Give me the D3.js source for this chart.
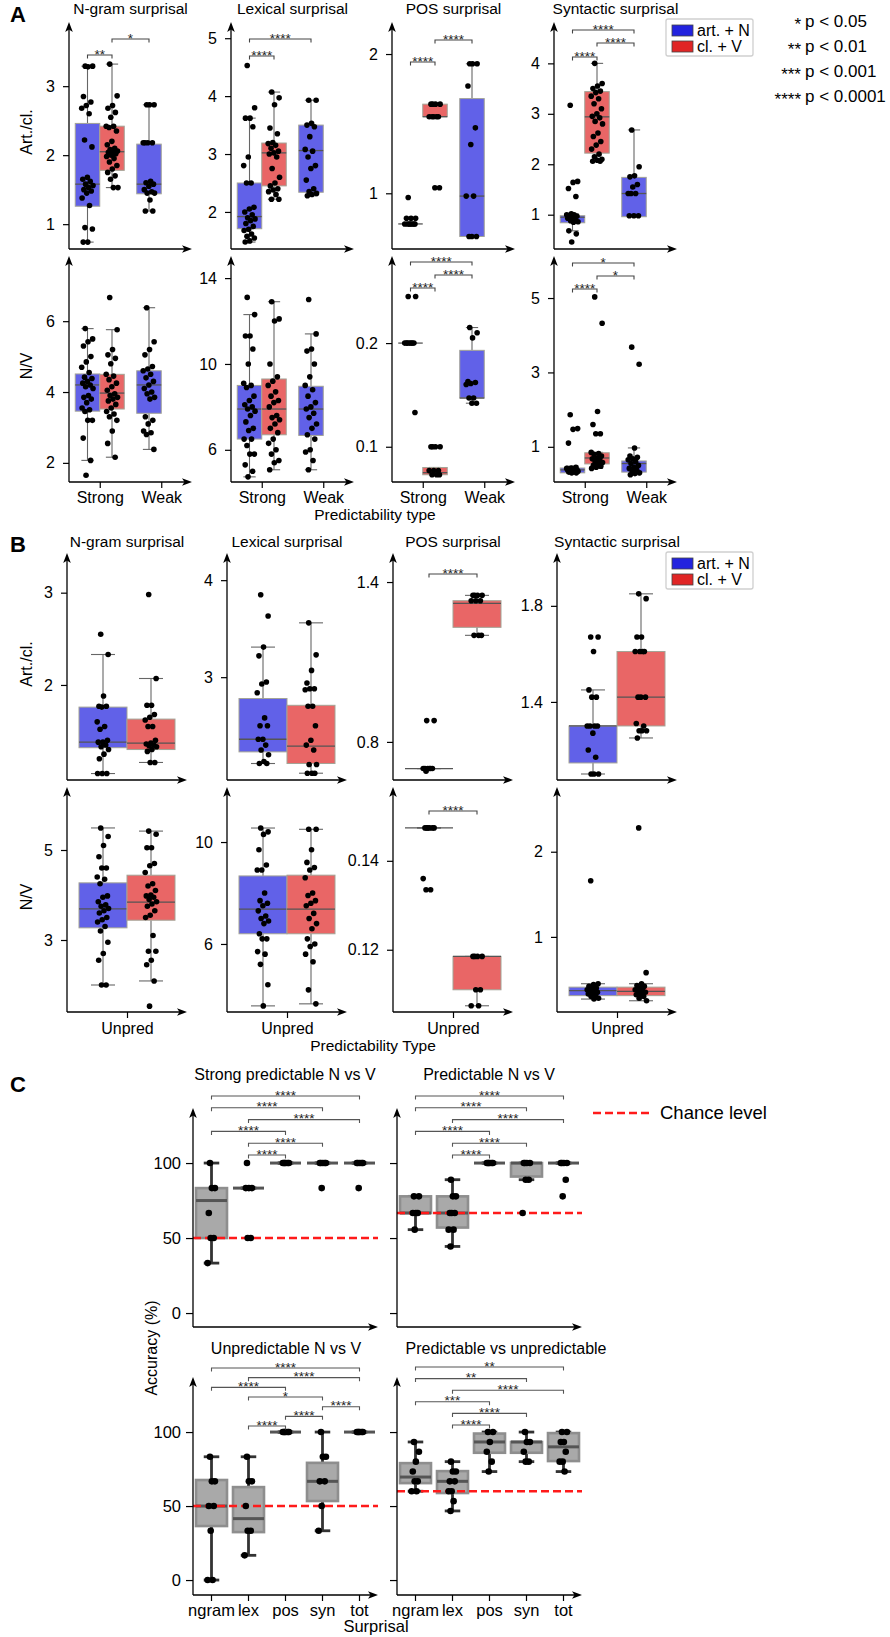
<!DOCTYPE html>
<html><head><meta charset="utf-8">
<script src="https://cdn.jsdelivr.net/npm/d3@7/dist/d3.min.js"></script>
<style>body{margin:0;background:#fff}svg{display:block}</style>
</head><body>
<svg id="chart" width="890" height="1637"></svg>
<script>
// ================= DATA =================
const hueNames = ["art. + N", "cl. + V"];
const predTypes = ["Strong", "Weak"];
const unpredType = ["Unpred"];
const surprisalTypes = ["ngram", "lex", "pos", "syn", "tot"];
const surprisalTitles = ["N-gram surprisal", "Lexical surprisal", "POS surprisal", "Syntactic surprisal"];
const accTitles = ["Strong predictable N vs V", "Predictable N vs V", "Unpredictable N vs V", "Predictable vs unpredictable"];
const sigStars = ["*", "**", "***", "****"];
const sigThresh = ["p < 0.05", "p < 0.01", "p < 0.001", "p < 0.0001"];
const groupsA = [["Strong", "art. + N"], ["Strong", "cl. + V"], ["Weak", "art. + N"]];
const groupsB = [["Unpred", "art. + N"], ["Unpred", "cl. + V"]];

// box stats: [Q1, median, Q3, lower whisker, upper whisker]
// ---- Panel A, Art./cl. ----
const aNgramArtBox = [[1.26,1.58,2.46,0.74,3.29],[1.78,2.05,2.42,1.53,3.32],[1.44,1.58,2.16,1.19,2.73]];
const aNgramArtPts = [
 [3.29,3.29,3.28,2.85,2.77,2.72,2.68,2.6,2.22,2.12,1.68,1.65,1.62,1.58,1.56,1.53,1.5,1.48,1.45,1.38,1.27,0.95,0.93,0.74,0.74],
 [3.32,2.86,2.72,2.68,2.62,2.55,2.42,2.42,2.4,2.35,2.2,2.15,2.1,2.08,2.06,2.05,2.04,2.02,2.0,1.98,1.95,1.9,1.85,1.8,1.75,1.7,1.65,1.53,1.53],
 [2.73,2.73,2.73,2.18,2.18,2.18,2.18,1.62,1.6,1.58,1.55,1.5,1.47,1.45,1.45,1.35,1.19,1.19]];
const aNgramArtSig = [[0,1,"**"],[1,2,"*"]];
const aNgramArtTicks = [1,2,3];

const aLexArtBox = [[1.71,1.92,2.5,1.48,3.62],[2.45,3.02,3.19,2.22,4.07],[2.34,3.06,3.5,2.28,3.93]];
const aLexArtPts = [
 [4.53,3.8,3.62,3.62,3.47,2.95,2.8,2.5,2.5,2.08,2.05,2.0,1.95,1.9,1.88,1.85,1.8,1.75,1.7,1.68,1.62,1.58,1.55,1.5,1.48],
 [4.07,3.97,3.85,3.45,3.35,3.2,3.18,3.15,3.1,3.05,3.02,3.0,2.95,2.75,2.6,2.5,2.45,2.4,2.38,2.35,2.3,2.22,2.22],
 [3.93,3.93,3.53,3.5,3.47,3.3,3.08,3.05,2.95,2.8,2.75,2.55,2.4,2.35,2.32,2.3,2.28]];
const aLexArtSig = [[0,1,"****"],[0,2,"****"]];
const aLexArtTicks = [2,3,4,5];

const aPosArtBox = [[0.78,0.78,0.78,0.78,0.78],[1.55,1.55,1.64,1.55,1.64],[0.69,0.98,1.68,0.69,1.93]];
const aPosArtPts = [
 [0.97,0.82,0.82,0.82,0.78,0.78,0.78,0.78,0.78,0.78,0.78],
 [1.64,1.64,1.64,1.64,1.55,1.55,1.55,1.55,1.55,1.04,1.04],
 [1.93,1.93,1.93,1.77,1.47,1.35,0.98,0.98,0.69,0.69,0.69]];
const aPosArtSig = [[0,1,"****"],[1,2,"****"]];
const aPosArtTicks = [1,2];

const aSynArtBox = [[0.84,0.95,0.98,0.68,1.02],[2.22,2.94,3.44,2.06,4.0],[0.96,1.42,1.74,0.96,2.68]];
const aSynArtPts = [
 [3.17,1.66,1.64,1.52,1.36,1.02,1.0,1.0,0.98,0.97,0.95,0.93,0.9,0.88,0.86,0.85,0.68,0.62,0.46],
 [4.0,3.6,3.55,3.5,3.45,3.42,3.35,3.3,3.2,3.1,3.0,2.95,2.92,2.85,2.8,2.62,2.55,2.45,2.38,2.3,2.2,2.15,2.1,2.08,2.06,2.06],
 [2.68,1.95,1.77,1.75,1.6,1.55,1.42,1.42,1.42,0.98,0.98,0.98]];
const aSynArtSig = [[0,1,"****"],[1,2,"****"],[0,2,"****"]];
const aSynArtTicks = [1,2,3,4];

// ---- Panel A, N/V ----
const aNgramNVBox = [[3.46,4.2,4.51,2.07,5.79],[3.52,3.97,4.5,2.16,5.76],[3.4,4.2,4.6,2.38,6.38]];
const aNgramNVPts = [
 [5.79,5.5,5.42,5.3,5.0,4.85,4.7,4.55,4.42,4.38,4.3,4.25,4.2,4.15,4.1,3.9,3.85,3.8,3.7,3.55,3.5,3.45,3.2,3.2,2.7,2.07,1.65],
 [6.67,5.76,5.2,5.05,4.95,4.8,4.5,4.45,4.35,4.25,4.15,4.05,3.95,3.9,3.85,3.8,3.75,3.65,3.55,3.45,3.38,3.3,3.2,2.9,2.55,2.16],
 [6.38,5.42,5.2,5.05,4.72,4.65,4.6,4.5,4.4,4.3,4.2,4.1,4.0,3.95,3.85,3.8,3.3,3.2,3.1,2.9,2.85,2.8,2.38]];
const aNgramNVSig = [];
const aNgramNVTicks = [2,4,6];

const aLexNVBox = [[6.5,7.9,9.0,4.74,12.3],[6.7,7.9,9.3,5.07,12.9],[6.67,7.9,8.96,5.07,11.4]];
const aLexNVPts = [
 [13.1,12.3,11.3,11.3,10.7,10.0,9.1,9.0,8.9,8.5,8.3,8.1,8.0,7.9,7.8,7.6,7.3,7.0,6.9,6.5,6.5,6.2,5.8,5.8,5.3,5.0,4.74],
 [12.9,12.1,12.0,10.0,9.4,9.2,9.0,8.7,8.5,8.3,8.2,8.0,7.6,7.5,7.4,7.2,7.0,6.8,6.5,6.3,6.0,5.8,5.5,5.4,5.07],
 [13.0,11.4,10.7,10.6,10.0,9.4,9.0,8.8,8.5,8.2,8.0,7.9,7.7,7.5,7.2,7.0,6.7,6.5,6.0,5.9,5.5,5.07]];
const aLexNVSig = [];
const aLexNVTicks = [6,10,14];

const aPosNVBox = [[0.2,0.2,0.2,0.2,0.2],[0.073,0.075,0.08,0.073,0.08],[0.147,0.147,0.193,0.142,0.215]];
const aPosNVPts = [
 [0.245,0.245,0.2,0.2,0.2,0.2,0.2,0.2,0.2,0.133],
 [0.1,0.1,0.1,0.1,0.077,0.077,0.077,0.073,0.073,0.073],
 [0.215,0.21,0.205,0.163,0.162,0.161,0.16,0.147,0.147,0.142,0.142]];
const aPosNVSig = [[0,1,"****"],[1,2,"****"],[0,2,"****"]];
const aPosNVTicks = [0.1,0.2];

const aSynNVBox = [[0.3,0.38,0.43,0.28,0.48],[0.54,0.7,0.84,0.42,0.85],[0.32,0.55,0.62,0.25,0.97]];
const aSynNVPts = [
 [1.86,1.49,1.47,1.1,0.45,0.43,0.42,0.4,0.4,0.38,0.38,0.37,0.36,0.35,0.34,0.33,0.32,0.3,0.3],
 [5.03,4.32,1.95,1.6,1.35,1.35,0.85,0.82,0.8,0.75,0.7,0.68,0.65,0.6,0.58,0.55,0.5,0.48,0.45,0.42],
 [3.68,3.22,0.97,0.75,0.72,0.68,0.65,0.6,0.55,0.5,0.45,0.42,0.38,0.35,0.3,0.28,0.25]];
const aSynNVSig = [[0,1,"****"],[1,2,"*"],[0,2,"*"]];
const aSynNVTicks = [1,3,5];

// ---- Panel B, Art./cl. ----
const bNgramArtBox = [[1.32,1.38,1.76,1.04,2.33],[1.3,1.37,1.63,1.16,2.07]];
const bNgramArtPts = [
 [2.55,2.33,1.88,1.77,1.77,1.76,1.6,1.55,1.52,1.4,1.38,1.38,1.35,1.33,1.3,1.25,1.2,1.04,1.04,1.04],
 [2.98,2.07,1.78,1.78,1.68,1.65,1.62,1.55,1.55,1.4,1.37,1.36,1.35,1.34,1.33,1.3,1.28,1.16,1.16]];
const bNgramArtSig = [];
const bNgramArtTicks = [2,3];

const bLexArtBox = [[2.23,2.36,2.78,2.11,3.31],[2.11,2.29,2.71,2.01,3.56]];
const bLexArtPts = [
 [3.85,3.63,3.31,3.22,2.95,2.93,2.84,2.58,2.5,2.5,2.36,2.36,2.3,2.25,2.2,2.13,2.11,2.11],
 [3.56,3.23,3.07,2.94,2.88,2.88,2.87,2.7,2.7,2.5,2.35,2.3,2.25,2.1,2.1,2.01,2.01,2.01]];
const bLexArtSig = [];
const bLexArtTicks = [3,4];

const bPosArtBox = [[0.7,0.7,0.7,0.7,0.7],[1.23,1.32,1.33,1.2,1.35]];
const bPosArtPts = [
 [0.88,0.88,0.7,0.7,0.7,0.7,0.7,0.7,0.69],
 [1.35,1.35,1.35,1.35,1.33,1.33,1.33,1.2,1.2,1.2]];
const bPosArtSig = [[0,1,"****"]];
const bPosArtTicks = [0.8,1.4];

const bSynArtBox = [[1.146,1.3,1.3,1.1,1.45],[1.3,1.42,1.61,1.25,1.85]];
const bSynArtPts = [
 [1.67,1.67,1.61,1.45,1.42,1.42,1.3,1.3,1.3,1.3,1.27,1.2,1.17,1.1,1.1,1.1],
 [1.85,1.83,1.67,1.67,1.61,1.61,1.61,1.61,1.42,1.42,1.42,1.31,1.3,1.28,1.28,1.28,1.25]];
const bSynArtSig = [];
const bSynArtTicks = [1.4,1.8];

// ---- Panel B, N/V ----
const bNgramNVBox = [[3.27,3.69,4.27,2.0,5.49],[3.44,3.84,4.44,2.09,5.42]];
const bNgramNVPts = [
 [5.49,5.3,5.1,4.85,4.6,4.6,4.4,4.35,4.25,3.98,3.95,3.85,3.78,3.75,3.7,3.65,3.6,3.5,3.45,3.4,3.3,3.2,2.95,2.7,2.55,2.0,2.0],
 [5.42,5.35,5.05,5.05,4.7,4.65,4.5,4.25,4.2,4.1,4.0,3.98,3.95,3.9,3.85,3.8,3.75,3.65,3.55,3.5,3.1,2.75,2.75,2.55,2.45,2.09,1.53]];
const bNgramNVSig = [];
const bNgramNVTicks = [3,5];

const bLexNVBox = [[6.4,7.37,8.67,3.57,10.55],[6.4,7.37,8.7,3.65,10.5]];
const bLexNVPts = [
 [10.55,10.4,10.3,9.7,9.1,8.9,8.9,8.0,7.7,7.6,7.5,7.3,7.1,7.0,6.9,6.8,6.4,6.2,6.2,5.7,5.6,5.2,4.4,3.57],
 [10.5,10.5,9.7,9.2,9.0,8.9,8.6,8.0,7.9,7.7,7.6,7.5,7.2,7.0,6.8,6.6,6.2,6.0,5.9,5.6,5.3,4.2,3.65]];
const bLexNVSig = [];
const bLexNVTicks = [6,10];

const bPosNVBox = [[0.1474,0.1474,0.1474,0.1474,0.1474],[0.111,0.1185,0.1185,0.1074,0.1185]];
const bPosNVPts = [
 [0.1474,0.1474,0.1474,0.1474,0.1474,0.1474,0.136,0.1335,0.1335],
 [0.1185,0.1185,0.1185,0.1185,0.111,0.111,0.1074,0.1074]];
const bPosNVSig = [[0,1,"****"]];
const bPosNVTicks = [0.12,0.14];

const bSynNVBox = [[0.31,0.37,0.41,0.27,0.45],[0.31,0.36,0.41,0.25,0.45]];
const bSynNVPts = [
 [1.66,0.45,0.44,0.42,0.4,0.39,0.38,0.37,0.36,0.35,0.34,0.33,0.32,0.3,0.28,0.27],
 [2.28,0.58,0.45,0.43,0.42,0.4,0.38,0.37,0.36,0.35,0.33,0.32,0.3,0.28,0.25]];
const bSynNVSig = [];
const bSynNVTicks = [1,2];

// ---- Panel C, accuracy (%) per surprisal type ----
const accTicks = [0,50,100];
const cStrongBox = [[50,75,83.3,33.3,100],[83.3,83.3,83.3,83.3,83.3],[100,100,100,100,100],[100,100,100,100,100],[100,100,100,100,100]];
const cStrongPts = [[100,83.3,83.3,66.7,50,50,33.3],[100,83.3,83.3,83.3,50,50],[100,100,100,100,100,100],[100,100,100,100,100,83.3],[100,100,100,100,100,83.3]];
const cStrongSig = [[0,4,"****"],[0,3,"****"],[1,4,"****"],[0,2,"****"],[1,3,"****"],[1,2,"****"]];

const cPredBox = [[66.7,66.7,77.8,55.6,77.8],[57,66.7,77.8,44.4,88.9],[100,100,100,100,100],[91,100,100,88.9,100],[100,100,100,100,100]];
const cPredPts = [[77.8,77.8,66.7,66.7,66.7,55.6],[88.9,77.8,77.8,66.7,66.7,66.7,55.6,55.6,44.4],[100,100,100,100,100,100],[100,100,100,100,88.9,88.9,66.7],[100,100,100,100,88.9,77.8]];
const cPredSig = [[0,4,"****"],[0,3,"****"],[1,4,"****"],[0,2,"****"],[1,3,"****"],[1,2,"****"]];

const cUnpredBox = [[36.5,50,67.6,0,83.3],[32.4,41.5,62.8,16.7,83.3],[100,100,100,100,100],[53.4,66.7,79.2,33.3,100],[100,100,100,100,100]];
const cUnpredPts = [[83.3,66.7,66.7,50,50,33.3,0,0],[83.3,66.7,66.7,50,33.3,33.3,16.7],[100,100,100,100,100,100],[100,83.3,83.3,66.7,66.7,50,33.3],[100,100,100,100,100,100]];
const cUnpredSig = [[0,4,"****"],[1,4,"****"],[0,2,"****"],[1,3,"*"],[3,4,"****"],[2,3,"****"],[1,2,"****"]];

const cPvUBox = [[65.5,69.6,79,60,93.3],[58.8,66.7,73.6,46.7,80],[86,93.3,99,73.3,100],[86,93.3,93.3,80,100],[80.4,90,99.3,73.3,100]];
const cPvUPts = [[93.3,86.7,80,73.3,66.7,66.7,60,60],[80,73.3,73.3,66.7,66.7,60,60,53.3,46.7],[100,100,93.3,86.7,80,73.3],[100,93.3,93.3,86.7,80,80],[100,100,93.3,93.3,86.7,80,80,73.3]];
const cPvUSig = [[0,4,"**"],[0,3,"**"],[1,4,"****"],[0,2,"***"],[1,3,"****"],[1,2,"****"]];

const chanceLevels = [50, 66.7, 50, 60];

// ================= DRAWING =================
const FONT = "'Liberation Sans', Arial, Helvetica, sans-serif";
const svg = d3.select("#chart");
const hueFill = ["#6161e8", "#e96666"];
const hueSwatch = ["#2323de", "#e02525"];

function txt(x, y, s, size, o = {}) {
  const e = svg.append("text").attr("x", x).attr("y", y).text(s)
    .attr("font-size", size).attr("font-family", FONT).attr("fill", "#000");
  if (o.anchor) e.attr("text-anchor", o.anchor);
  if (o.weight) e.attr("font-weight", o.weight);
  if (o.rot) e.attr("transform", `rotate(-90,${x},${y})`);
  return e;
}
function jitter(n, half) {
  return d3.range(n).map(i => ((((i + 0.5) * 0.61803398875) % 1) * 2 - 1) * half);
}

const stAB = {boxStroke: "#a3a396", boxW: 1, med: "#555", medW: 1.3, wh: "#666", whW: 1.1, cap: 0.5, r: 2.8, jit: 6,
  tickLen: 6, tickPad: 8, tickFont: 16, brColor: "#444", brFont: 13.5};
const stC = {boxStroke: "#8e8e8e", boxW: 2.6, med: "#555", medW: 3, wh: "#333", whW: 2.8, cap: 0.5, r: 3.3, jit: 4,
  tickLen: 7, tickPad: 5, tickFont: 16.5, brColor: "#555", brFont: 13.5};

function subplot(o) {
  const g = svg.append("g");
  const st = o.st;
  const y = d3.scaleLinear().domain(o.lim).range([o.yBot, o.yTop]);
  const x1 = o.x0 + o.w;
  o.boxes.forEach((b, i) => {
    const p = o.place(i);
    const hw = p.bw * st.cap / 2;
    g.append("line").attr("x1", p.cx).attr("x2", p.cx).attr("y1", y(b[3])).attr("y2", y(b[0]))
      .attr("stroke", st.wh).attr("stroke-width", st.whW);
    g.append("line").attr("x1", p.cx).attr("x2", p.cx).attr("y1", y(b[2])).attr("y2", y(b[4]))
      .attr("stroke", st.wh).attr("stroke-width", st.whW);
    [b[3], b[4]].forEach(v => g.append("line").attr("x1", p.cx - hw).attr("x2", p.cx + hw)
      .attr("y1", y(v)).attr("y2", y(v)).attr("stroke", st.wh).attr("stroke-width", st.whW));
    g.append("rect").attr("x", p.cx - p.bw / 2).attr("y", y(b[2])).attr("width", p.bw)
      .attr("height", Math.max(0, y(b[0]) - y(b[2]))).attr("fill", p.fill)
      .attr("stroke", st.boxStroke).attr("stroke-width", st.boxW);
    g.append("line").attr("x1", p.cx - p.bw / 2).attr("x2", p.cx + p.bw / 2).attr("y1", y(b[1])).attr("y2", y(b[1]))
      .attr("stroke", st.med).attr("stroke-width", st.medW);
  });
  if (o.chance != null) {
    g.append("line").attr("x1", o.x0).attr("x2", x1).attr("y1", y(o.chance)).attr("y2", y(o.chance))
      .attr("stroke", "#ff1a1a").attr("stroke-width", 2.6).attr("stroke-dasharray", "8,4");
  }
  o.pts.forEach((arr, i) => {
    const p = o.place(i);
    const jo = jitter(arr.length, st.jit);
    g.selectAll(null).data(arr).enter().append("circle")
      .attr("cx", (d, k) => p.cx + jo[k]).attr("cy", d => y(d)).attr("r", st.r).attr("fill", "#000");
  });
  const ya = d3.axisLeft(y).tickValues(o.ticks).tickSize(st.tickLen).tickPadding(st.tickPad)
    .tickFormat(o.noYLabels ? () => "" : d3.format("~g"));
  const gy = g.append("g").attr("transform", `translate(${o.x0},0)`).call(ya);
  gy.select(".domain").remove();
  gy.selectAll("line").attr("stroke", "#000").attr("stroke-width", 1.2);
  gy.selectAll("text").attr("font-size", st.tickFont).attr("font-family", FONT).attr("fill", "#000");
  if (o.xScale) {
    const xa = d3.axisBottom(o.xScale).tickSize(6).tickPadding(o.xPad);
    const gx = g.append("g").attr("transform", `translate(0,${o.yBot})`).call(xa);
    gx.select(".domain").remove();
    gx.selectAll("line").attr("stroke", "#000").attr("stroke-width", 1.2);
    gx.selectAll("text").attr("font-size", o.xFont).attr("font-family", FONT).attr("fill", "#000");
  }
  g.append("line").attr("x1", o.x0).attr("x2", o.x0).attr("y1", o.yBot).attr("y2", o.yTop + 6)
    .attr("stroke", "#000").attr("stroke-width", 1.3);
  g.append("line").attr("x1", o.x0).attr("x2", x1 - 6).attr("y1", o.yBot).attr("y2", o.yBot)
    .attr("stroke", "#000").attr("stroke-width", 1.3);
  g.append("path").attr("d", `M${o.x0},${o.yTop} L${o.x0 - 3.8},${o.yTop + 10} L${o.x0},${o.yTop + 7.5} L${o.x0 + 3.8},${o.yTop + 10}Z`).attr("fill", "#000");
  g.append("path").attr("d", `M${x1},${o.yBot} L${x1 - 10},${o.yBot - 3.8} L${x1 - 7.5},${o.yBot} L${x1 - 10},${o.yBot + 3.8}Z`).attr("fill", "#000");
  o.sig.forEach((s, k) => {
    const a = o.place(s[0]).cx, b = o.place(s[1]).cx, yy = o.brY[k];
    g.append("path").attr("d", `M${a},${yy + 3.5}V${yy}H${b}V${yy + 3.5}`).attr("fill", "none")
      .attr("stroke", st.brColor).attr("stroke-width", 1.1);
    g.append("text").attr("x", (a + b) / 2).attr("y", yy + 3.5).attr("text-anchor", "middle").text(s[2])
      .attr("font-size", st.brFont).attr("font-family", FONT).attr("fill", "#222");
  });
  if (o.title) txt(o.titleX != null ? o.titleX : o.x0 + o.w / 2, o.titleY, o.title, o.titleFont, {anchor: "middle"});
}

function hueLayout(x0, w, cats, groups, half) {
  const xc = d3.scalePoint().domain(cats).range([x0, x0 + w]).padding(0.5);
  const xh = d3.scaleBand().domain(hueNames).range([-half, half]);
  return {
    xc,
    place: i => ({cx: xc(groups[i][0]) + xh(groups[i][1]) + xh.bandwidth() / 2, bw: xh.bandwidth(),
      fill: hueFill[hueNames.indexOf(groups[i][1])]})
  };
}

// ---------- Panel A ----------
const AX0 = [69, 231, 392, 554], AW = 123;
const aArt = [
  {box: aNgramArtBox, pts: aNgramArtPts, sig: aNgramArtSig, ticks: aNgramArtTicks, lim: [0.64, 3.93], brY: [55, 39]},
  {box: aLexArtBox, pts: aLexArtPts, sig: aLexArtSig, ticks: aLexArtTicks, lim: [1.36, 5.28], brY: [56, 39]},
  {box: aPosArtBox, pts: aPosArtPts, sig: aPosArtSig, ticks: aPosArtTicks, lim: [0.6, 2.23], brY: [62, 40]},
  {box: aSynArtBox, pts: aSynArtPts, sig: aSynArtSig, ticks: aSynArtTicks, lim: [0.32, 4.82], brY: [57, 43, 30]}];
const aNV = [
  {box: aNgramNVBox, pts: aNgramNVPts, sig: aNgramNVSig, ticks: aNgramNVTicks, lim: [1.46, 7.84], brY: []},
  {box: aLexNVBox, pts: aLexNVPts, sig: aLexNVSig, ticks: aLexNVTicks, lim: [4.5, 15.03], brY: []},
  {box: aPosNVBox, pts: aPosNVPts, sig: aPosNVSig, ticks: aPosNVTicks, lim: [0.066, 0.284], brY: [288, 275, 262]},
  {box: aSynNVBox, pts: aSynNVPts, sig: aSynNVSig, ticks: aSynNVTicks, lim: [0.054, 6.13], brY: [289, 276, 263]}];
for (let c = 0; c < 4; c++) {
  const L = hueLayout(AX0[c], AW, predTypes, groupsA, 24.5);
  subplot({x0: AX0[c], w: AW, yTop: 22, yBot: 249, lim: aArt[c].lim, ticks: aArt[c].ticks, boxes: aArt[c].box,
    pts: aArt[c].pts, sig: aArt[c].sig, brY: aArt[c].brY, place: L.place, st: stAB,
    title: surprisalTitles[c], titleY: 14, titleFont: 15.5});
  subplot({x0: AX0[c], w: AW, yTop: 256, yBot: 482, lim: aNV[c].lim, ticks: aNV[c].ticks, boxes: aNV[c].box,
    pts: aNV[c].pts, sig: aNV[c].sig, brY: aNV[c].brY, place: L.place, st: stAB,
    xScale: L.xc, xPad: 4, xFont: 16});
}
txt(10, 22, "A", 22, {weight: "bold"});
txt(32, 132, "Art./cl.", 16, {anchor: "middle", rot: true});
txt(32, 366, "N/V", 16, {anchor: "middle", rot: true});
txt(375, 520, "Predictability type", 15.5, {anchor: "middle"});

function hueLegend(x, y) {
  svg.append("rect").attr("x", x).attr("y", y).attr("width", 87).attr("height", 37).attr("rx", 2)
    .attr("fill", "#fff").attr("stroke", "#cfcfcf").attr("stroke-width", 1.3);
  hueNames.forEach((h, i) => {
    svg.append("rect").attr("x", x + 6).attr("y", y + 6 + i * 16).attr("width", 21).attr("height", 11)
      .attr("fill", hueSwatch[i]).attr("stroke", "#444").attr("stroke-width", 0.8);
    txt(x + 31, y + 16.5 + i * 16, h, 16);
  });
}
hueLegend(666, 19);

sigStars.forEach((s, i) => {
  txt(801, 29.5 + i * 25, s, 17, {anchor: "end"});
  txt(805, 26.5 + i * 25, sigThresh[i], 17);
});

// ---------- Panel B ----------
const BX0 = [67, 227, 393, 557], BW = 120;
const bArt = [
  {box: bNgramArtBox, pts: bNgramArtPts, sig: bNgramArtSig, ticks: bNgramArtTicks, lim: [0.97, 3.43], brY: []},
  {box: bLexArtBox, pts: bLexArtPts, sig: bLexArtSig, ticks: bLexArtTicks, lim: [1.94, 4.28], brY: []},
  {box: bPosArtBox, pts: bPosArtPts, sig: bPosArtSig, ticks: bPosArtTicks, lim: [0.657, 1.509], brY: [574]},
  {box: bSynArtBox, pts: bSynArtPts, sig: bSynArtSig, ticks: bSynArtTicks, lim: [1.075, 2.02], brY: []}];
const bNV = [
  {box: bNgramNVBox, pts: bNgramNVPts, sig: bNgramNVSig, ticks: bNgramNVTicks, lim: [1.4, 6.4], brY: []},
  {box: bLexNVBox, pts: bLexNVPts, sig: bLexNVSig, ticks: bLexNVTicks, lim: [3.33, 12.16], brY: []},
  {box: bPosNVBox, pts: bPosNVPts, sig: bPosNVSig, ticks: bPosNVTicks, lim: [0.106, 0.1566], brY: [811]},
  {box: bSynNVBox, pts: bSynNVPts, sig: bSynNVSig, ticks: bSynNVTicks, lim: [0.118, 2.76], brY: []}];
for (let c = 0; c < 4; c++) {
  const L = hueLayout(BX0[c], BW, unpredType, groupsB, 48);
  subplot({x0: BX0[c], w: BW, yTop: 553, yBot: 780, lim: bArt[c].lim, ticks: bArt[c].ticks, boxes: bArt[c].box,
    pts: bArt[c].pts, sig: bArt[c].sig, brY: bArt[c].brY, place: L.place, st: stAB,
    title: surprisalTitles[c], titleY: 547, titleFont: 15.5});
  subplot({x0: BX0[c], w: BW, yTop: 787, yBot: 1012, lim: bNV[c].lim, ticks: bNV[c].ticks, boxes: bNV[c].box,
    pts: bNV[c].pts, sig: bNV[c].sig, brY: bNV[c].brY, place: L.place, st: stAB,
    xScale: L.xc, xPad: 5, xFont: 16});
}
txt(10, 552, "B", 22, {weight: "bold"});
txt(32, 664, "Art./cl.", 16, {anchor: "middle", rot: true});
txt(32, 897, "N/V", 16, {anchor: "middle", rot: true});
txt(373, 1051, "Predictability Type", 15.5, {anchor: "middle"});
hueLegend(666, 552);

// ---------- Panel C ----------
const CX0 = [193, 397], CW = 185;
const cRows = [{yTop: 1108, yBot: 1327, lim: [-9.3, 136.7]},
               {yTop: 1377, yBot: 1595, lim: [-10.1, 137.2]}];
const cSets = [
  {box: cStrongBox, pts: cStrongPts, sig: cStrongSig},
  {box: cPredBox, pts: cPredPts, sig: cPredSig},
  {box: cUnpredBox, pts: cUnpredPts, sig: cUnpredSig},
  {box: cPvUBox, pts: cPvUPts, sig: cPvUSig}];
const cTitleX = [285, 489, 286, 506];
const cTitleY = [1080, 1080, 1354, 1354];
const cBrTop = [1096, 1096, 1368, 1367];
const cBrStep = [11.8, 11.8, 9.67, 11.6];
cSets.forEach((s, k) => {
  const row = cRows[Math.floor(k / 2)], col = k % 2;
  const xc = d3.scaleBand().domain(surprisalTypes).range([CX0[col], CX0[col] + CW]);
  const place = i => ({cx: xc(surprisalTypes[i]) + xc.bandwidth() / 2, bw: 31, fill: "#a9a9a9"});
  subplot({x0: CX0[col], w: CW, yTop: row.yTop, yBot: row.yBot, lim: row.lim, ticks: accTicks,
    boxes: s.box, pts: s.pts, sig: s.sig, brY: s.sig.map((d, j) => cBrTop[k] + j * cBrStep[k]), place, st: stC,
    chance: chanceLevels[k], noYLabels: col === 1,
    xScale: k >= 2 ? xc : null, xPad: 3, xFont: 16.5,
    title: accTitles[k], titleX: cTitleX[k], titleY: cTitleY[k], titleFont: 16});
});
txt(10, 1092, "C", 22, {weight: "bold"});
txt(157, 1348, "Accuracy (%)", 16, {anchor: "middle", rot: true});
txt(376, 1632, "Surprisal", 16.5, {anchor: "middle"});
svg.append("line").attr("x1", 593).attr("x2", 652).attr("y1", 1113).attr("y2", 1113)
  .attr("stroke", "#ff1a1a").attr("stroke-width", 2.6).attr("stroke-dasharray", "8,4");
txt(660, 1119, "Chance level", 18.5);
</script>
</body></html>
